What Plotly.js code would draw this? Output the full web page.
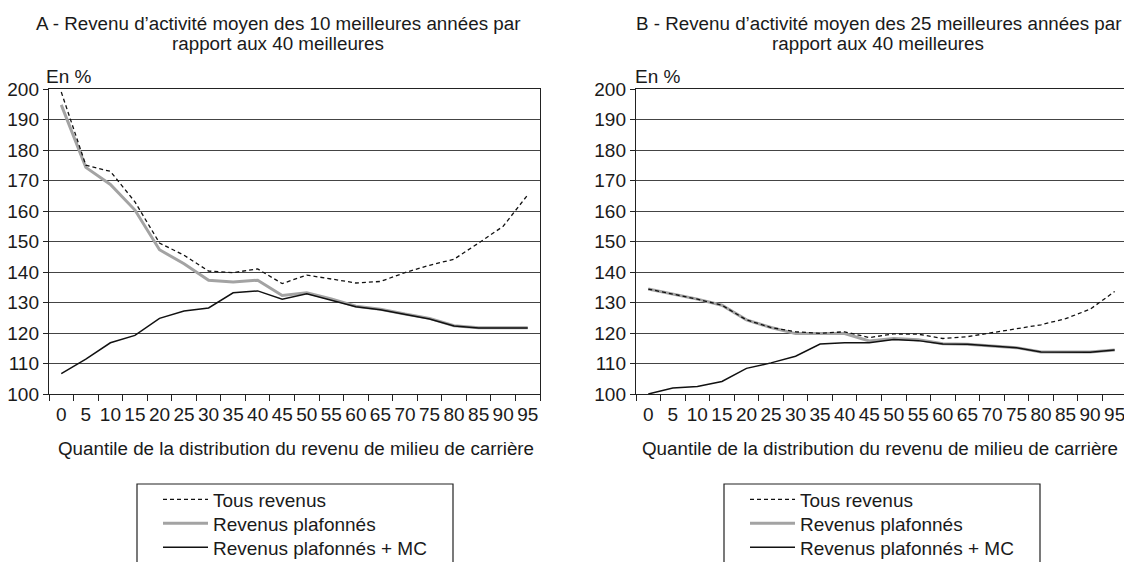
<!DOCTYPE html>
<html>
<head>
<meta charset="utf-8">
<script src="https://cdn.plot.ly/plotly-3.0.1.min.js"></script>
<style>html,body{margin:0;padding:0;background:#fff;}#chart{width:1124px;height:562px;}</style>
</head>
<body>
<div id="chart"></div>
<script>
const quantiles = ["0","5","10","15","20","25","30","35","40","45","50","55","60","65","70","75","80","85","90","95"];

// Panel A - 10 meilleures / 40 meilleures
const tousA = [199, 175, 173, 163, 149.5, 145.5, 140.3, 139.8, 141, 136.2, 139, 137.8, 136.4, 136.9, 139.8, 142.2, 144.2, 149.5, 155, 165.3];
const plafA = [194.8, 174.3, 168.7, 160.3, 147.3, 142.7, 137.3, 136.7, 137.3, 132.3, 133.2, 131.2, 128.8, 127.8, 126.2, 124.8, 122.4, 121.7, 121.7, 121.7];
const mcA   = [106.7, 111.4, 116.8, 119.2, 124.8, 127.2, 128.2, 133.2, 133.8, 131.1, 132.9, 130.7, 128.6, 127.6, 126.1, 124.6, 122.3, 121.6, 121.6, 121.6];

// Panel B - 25 meilleures / 40 meilleures
const tousB = [134.4, 132.7, 131.1, 129.1, 124.3, 121.8, 120.4, 119.9, 120.4, 118.5, 119.7, 119.6, 118.2, 118.8, 120.1, 121.2, 122.7, 124.7, 127.8, 133.6];
const plafB = [134.4, 132.7, 131.1, 129.1, 124.3, 121.8, 119.8, 119.8, 119.8, 117.4, 118.2, 117.8, 116.5, 116.3, 115.7, 115.2, 113.8, 113.8, 113.8, 114.4];
const mcB   = [100, 102, 102.5, 104.1, 108.4, 110.2, 112.4, 116.4, 116.8, 116.8, 117.9, 117.5, 116.4, 116.3, 115.7, 115.2, 113.8, 113.8, 113.7, 114.4];

const names = ["Tous revenus", "Revenus plafonnés", "Revenus plafonnés + MC"];
const titleA1 = "A - Revenu d’activité moyen des 10 meilleures années par";
const titleB1 = "B - Revenu d’activité moyen des 25 meilleures années par";
const title2 = "rapport aux 40 meilleures";
const xTitle = "Quantile de la distribution du revenu de milieu de carrière";
const yUnit = "En %";

const FONT = "Liberation Sans, Arial, Helvetica, sans-serif";
const TXT = "#1a1a1a";
const FS = 19;

function traces(tous, plaf, mc, xa, ya, legs) {
  return [
    {x: quantiles, y: plaf, xaxis: xa, yaxis: ya, name: names[1], legend: legs[1],
     mode: "lines", line: {color: "#a3a3a3", width: 3}},
    {x: quantiles, y: mc, xaxis: xa, yaxis: ya, name: names[2], legend: legs[2],
     mode: "lines", line: {color: "#111", width: 1.5}},
    {x: quantiles, y: tous, xaxis: xa, yaxis: ya, name: names[0], legend: legs[0],
     mode: "lines", line: {color: "#111", width: 1.3, dash: "4px,3px"}}
  ];
}

const data = traces(tousA, plafA, mcA, "x", "y", ["legend", "legend2", "legend3"])
  .concat(traces(tousB, plafB, mcB, "x2", "y2", ["legend4", "legend5", "legend6"]));

const H = 562, W = 1124;
const yb = (H - 394) / H, yt = (H - 89) / H;

function xax(dom, rng) {
  return {domain: dom, type: "category", categoryarray: quantiles, range: rng,
    tickson: "boundaries", ticks: "outside", ticklen: 6, tickcolor: "#222", tickangle: 0,
    ticklabelstandoff: 3,
    showline: true, linecolor: "#222", linewidth: 1.2, mirror: true,
    showgrid: false, automargin: false,
    tickfont: {family: FONT, size: FS, color: TXT}};
}
function yax(anchor, mirror) {
  return {domain: [yb, yt], anchor: anchor, range: [100, 200], dtick: 10, tick0: 100,
    ticks: "outside", ticklen: 5, tickcolor: "#222",
    showline: true, linecolor: "#222", linewidth: 1.2, mirror: mirror,
    showgrid: true, gridcolor: "#444", gridwidth: 1, zeroline: false, automargin: false,
    tickfont: {family: FONT, size: FS, color: TXT}};
}

function leg(xpx, ypx) {
  return {bgcolor: "rgba(0,0,0,0)", borderwidth: 0, yanchor: "middle", xanchor: "left",
    x: xpx / W, y: (H - ypx) / H, itemwidth: 45,
    font: {family: FONT, size: FS, color: TXT}, tracegroupgap: 0, orientation: "v"};
}

const legRows = [499.5, 523.5, 547.5];

function txt(text, xpx, ypx, xanchor, size) {
  return {text: text, xref: "paper", yref: "paper", x: xpx / W, y: (H - ypx) / H,
    xanchor: xanchor, yanchor: "middle", showarrow: false,
    font: {family: FONT, size: size, color: TXT}};
}

const layout = {
  width: W, height: H,
  margin: {l: 0, r: 0, t: 0, b: 0, pad: 0, autoexpand: false},
  paper_bgcolor: "#fff", plot_bgcolor: "#fff",
  font: {family: FONT, size: FS, color: TXT},
  xaxis: Object.assign(xax([49/W, 540/W], [-0.5, 19.5]), {anchor: "y"}),
  yaxis: yax("x", true),
  xaxis2: Object.assign(xax([636/W, 1], [-0.5, 19.38]), {anchor: "y2"}),
  yaxis2: yax("x2", false),
  legend:  leg(158, legRows[0]),
  legend2: leg(158, legRows[1]),
  legend3: leg(158, legRows[2]),
  legend4: leg(745, legRows[0]),
  legend5: leg(745, legRows[1]),
  legend6: leg(745, legRows[2]),
  showlegend: true,
  shapes: [
    {type: "rect", xref: "paper", yref: "paper", x0: 137/W, x1: 453/W, y0: -0.05, y1: (H - 484)/H,
     line: {color: "#222", width: 1.2}, fillcolor: "rgba(0,0,0,0)"},
    {type: "rect", xref: "paper", yref: "paper", x0: 724/W, x1: 1040/W, y0: -0.05, y1: (H - 484)/H,
     line: {color: "#222", width: 1.2}, fillcolor: "rgba(0,0,0,0)"}
  ],
  annotations: [
    txt(titleA1, 278, 23, "center", 18.8),
    txt(title2, 278, 44, "center", 18.8),
    txt(titleB1, 878, 23, "center", 18.8),
    txt(title2, 878, 44, "center", 18.8),
    txt(yUnit, 44, 77, "left", FS),
    txt(yUnit, 633, 77, "left", FS),
    txt(xTitle, 296, 448, "center", 18.8),
    txt(xTitle, 880, 448, "center", 18.8)
  ]
};

Plotly.newPlot("chart", data, layout, {staticPlot: true, displayModeBar: false});
</script>
</body>
</html>
